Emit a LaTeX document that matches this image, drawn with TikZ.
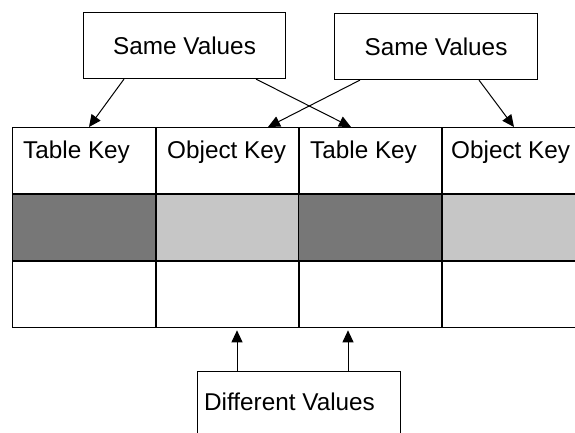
\documentclass[tikz,border=0pt]{standalone}
\usepackage{fontspec}
\setmainfont{Liberation Sans}
\usetikzlibrary{arrows.meta,calc}
\definecolor{darkshade}{HTML}{777777}
\definecolor{lightshade}{HTML}{C6C6C6}
\tikzset{
  cell/.style={draw=black, line width=1.3pt, rectangle, inner sep=0pt,
    minimum width=143pt, minimum height=66pt, anchor=north west},
  darkcell/.style={cell, fill=darkshade},
  lightcell/.style={cell, fill=lightshade},
  callout/.style={draw=black, line width=1.1pt, rectangle, inner sep=0pt, fill=white},
  txt/.style={font=\fontsize{24.3}{29}\selectfont},
  lbl/.style={txt, inner sep=0pt, anchor=base west},
  ptr/.style={line width=1pt, -{Triangle[length=12pt,width=11pt]}},
}
\begin{document}
\begin{tikzpicture}[x=1pt,y=-1pt]
\useasboundingbox (0,0) rectangle (575,432);
\clip (0,0) rectangle (575,432);

% four adjacent key columns, each with header, shaded and empty cell
\node[cell]      (h1) at (12,127)  {};
\node[cell]      (h2) at (156,127) {};
\node[cell]      (h3) at (298,127) {};
\node[cell]      (h4) at (442,127) {};
\node[darkcell]  (s1) at (12,194)  {};
\node[lightcell] (s2) at (156,194) {};
\node[darkcell]  (s3) at (298,194) {};
\node[lightcell] (s4) at (442,194) {};
\node[cell]      (b1) at (12,261)  {};
\node[cell]      (b2) at (156,261) {};
\node[cell]      (b3) at (298,261) {};
\node[cell]      (b4) at (442,261) {};

\node[lbl] (t1) at (23,158)  {Table Key};
\node[lbl] (t2) at (167,158) {Object Key};
\node[lbl] (t3) at (310,158) {Table Key};
\node[lbl] (t4) at (451,158) {Object Key};

% callout boxes
\node[callout, txt, minimum width=202pt, minimum height=66pt, anchor=north west]
  (same1) at (83,12) {Same Values};
\node[callout, txt, minimum width=203pt, minimum height=66pt, anchor=north west]
  (same2) at (334,13) {Same Values};
\node[callout, minimum width=203pt, minimum height=80pt, anchor=north west] (diff) at (197,371) {};
\node[lbl] (difftext) at (204,410) {Different Values};

% arrow end points on the column headers
\coordinate (e1) at ($(h1.north west)+(77,0)$);
\coordinate (e2) at ($(h3.north west)+(53,0)$);
\coordinate (e3) at ($(h2.north west)+(112,0)$);
\coordinate (e4) at ($(h4.north west)+(72,0)$);
\coordinate (e5) at ($(b2.south west)+(81,2)$);
\coordinate (e6) at ($(b3.south west)+(50,2)$);

\draw[ptr] ($(same1.south west)+(41,0)$)  -- (e1);
\draw[ptr] ($(same1.south west)+(173,0)$) -- (e2);
\draw[ptr] ($(same2.south west)+(26,0)$)  -- (e3);
\draw[ptr] ($(same2.south west)+(145,0)$) -- (e4);
\draw[ptr] ($(diff.north west)+(40,0)$)   -- (e5);
\draw[ptr] ($(diff.north west)+(151,0)$)  -- (e6);
\end{tikzpicture}
\end{document}
